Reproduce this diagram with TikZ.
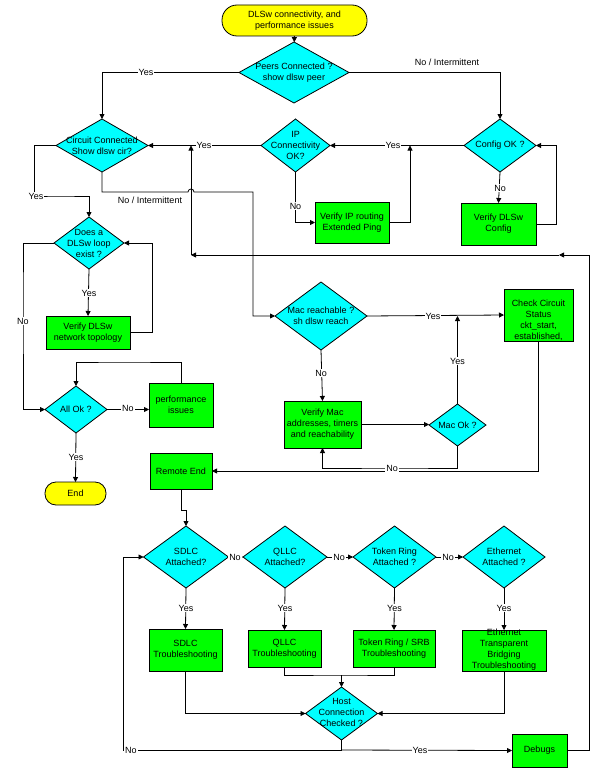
\documentclass[tikz,border=0pt]{standalone}
\usepackage{fontspec}
\setmainfont{Liberation Sans}
\usetikzlibrary{shapes.geometric,arrows.meta}
\definecolor{dcyan}{RGB}{0,255,255}
\definecolor{dgreen}{RGB}{0,255,0}
\definecolor{dyellow}{RGB}{255,255,0}
\begin{document}
\begin{tikzpicture}[x=1pt,y=-1pt,
  font=\fontsize{9}{11}\selectfont,
  dec/.style={diamond, draw=black, fill=dcyan, line width=0.8pt, inner sep=0pt, outer sep=0pt},
  gbox/.style={rectangle, draw=black, fill=dgreen, line width=0.8pt, inner sep=0pt, outer sep=0pt},
  term/.style={rectangle, rounded corners=#1, draw=black, fill=dyellow, line width=0.8pt, inner sep=0pt, outer sep=0pt},
  txt/.style={align=center, inner sep=0pt},
  lbl/.style={fill=white, inner sep=1pt},
  conn/.style={line width=0.8pt},
  arr/.style={line width=0.8pt, -{Triangle[length=5pt,width=5pt]}},
]
\fill[white] (0,0) rectangle (612,768);
\useasboundingbox (0,0) rectangle (612,768);

% ---------- shapes ----------
\node[term=15pt, minimum width=145pt, minimum height=31pt] (start) at (294.5,20.5) {};
\node[txt] (start-t) at (start) {DLSw connectivity, and\\performance issues};

\node[dec, minimum width=110pt, minimum height=61pt] (peers) at (294,72.5) {};
\node[txt] (peers-t) at (peers) {Peers Connected ?\\show dlsw peer};

\node[dec, minimum width=92pt, minimum height=53pt] (circ) at (102,145.5) {};
\node[txt] (circ-t) at (circ) {Circuit Connected\\Show dlsw cir?};

\node[dec, minimum width=69pt, minimum height=53pt] (ip) at (295.5,145.5) {};
\node[txt] (ip-t) at (ip) {IP\\Connectivity\\OK?};

\node[dec, minimum width=72pt, minimum height=53pt] (cfg) at (500,145.5) {};
\node[txt] (cfg-t) at (cfg) {Config OK ?};

\node[gbox, minimum width=74pt, minimum height=41pt] (vip) at (352,222.5) {};
\node[txt] (vip-t) at (vip) {Verify IP routing\\Extended Ping};

\node[gbox, minimum width=75pt, minimum height=42pt] (vcfg) at (498.5,224) {};
\node[txt] (vcfg-t) at (vcfg) {Verify DLSw\\Config};

\node[dec, minimum width=70pt, minimum height=52pt] (loop) at (89,243) {};
\node[txt] (loop-t) at (loop) {Does a\\DLSw loop\\exist ?};

\node[gbox, minimum width=84pt, minimum height=33pt] (vtopo) at (88,332.5) {};
\node[txt] (vtopo-t) at (vtopo) {Verify DLSw\\network topology};

\node[dec, minimum width=62pt, minimum height=47pt] (allok) at (76,409.5) {};
\node[txt] (allok-t) at (allok) {All Ok ?};

\node[gbox, minimum width=64pt, minimum height=44pt] (perf) at (181,405) {};
\node[txt] (perf-t) at (perf) {performance\\issues};

\node[term=11pt, minimum width=61pt, minimum height=23pt] (endn) at (75.5,493.5) {};
\node[txt] (endn-t) at (endn) {End};

\node[dec, minimum width=92pt, minimum height=68pt] (macr) at (321,316) {};
\node[txt] (macr-t) at (macr) {Mac reachable ?\\sh dlsw reach};

\node[gbox, minimum width=69pt, minimum height=52pt] (chk) at (538.5,315) {};
\node[txt] (chk-t) at (538.5,320) {Check Circuit\\Status\\ckt\_start,\\established,};

\node[gbox, minimum width=77pt, minimum height=47pt] (vmac) at (322.5,424.5) {};
\node[txt] (vmac-t) at (vmac) {Verify Mac\\addresses, timers\\and reachability};

\node[dec, minimum width=57pt, minimum height=42pt] (macok) at (457.5,425) {};
\node[txt] (macok-t) at (macok) {Mac Ok ?};

\node[gbox, minimum width=62pt, minimum height=36pt] (rend) at (181,471) {};
\node[txt] (rend-t) at (rend) {Remote End};

\node[dec, minimum width=85pt, minimum height=62pt] (sdlc) at (186,557) {};
\node[txt] (sdlc-t) at (sdlc) {SDLC\\Attached?};
\node[dec, minimum width=84pt, minimum height=62pt] (qllc) at (285,557) {};
\node[txt] (qllc-t) at (qllc) {QLLC\\Attached?};
\node[dec, minimum width=83pt, minimum height=62pt] (tr) at (394.5,557) {};
\node[txt] (tr-t) at (tr) {Token Ring\\Attached ?};
\node[dec, minimum width=82pt, minimum height=62pt] (eth) at (504,557) {};
\node[txt] (eth-t) at (eth) {Ethernet\\Attached ?};

\node[gbox, minimum width=73pt, minimum height=42pt] (sdlcb) at (185.5,650) {};
\node[txt] (sdlcb-t) at (sdlcb) {SDLC\\Troubleshooting};
\node[gbox, minimum width=73pt, minimum height=37pt] (qllcb) at (284.5,648.5) {};
\node[txt] (qllcb-t) at (qllcb) {QLLC\\Troubleshooting};
\node[gbox, minimum width=82pt, minimum height=37pt] (trb) at (394,648.5) {};
\node[txt] (trb-t) at (trb) {Token Ring / SRB\\Troubleshooting};
\node[gbox, minimum width=84pt, minimum height=41pt] (ethb) at (504,650.5) {};
\node[txt] (ethb-t) at (504,649.5) {Ethernet\\Transparent\\Bridging\\Troubleshooting};

\node[dec, minimum width=72pt, minimum height=53pt] (host) at (341.5,713.5) {};
\node[txt] (host-t) at (341.5,712) {Host\\Connection\\Checked ?};

\node[gbox, minimum width=55pt, minimum height=33pt] (debugs) at (539.5,750.5) {};
\node[txt] (debugs-t) at (debugs) {Debugs};

% ---------- helper coordinates ----------
\coordinate (m1) at (410,145.5);
\coordinate (hopa) at (188,192);
\coordinate (cornA) at (253,192);
\coordinate (mq) at (341.5,675);
\coordinate (hb) at (341.5,750);
\coordinate (lb) at (123,750);
\coordinate (r1) at (589,255);
\coordinate (r2) at (559,255);
\coordinate (r3) at (191,255);
\coordinate (r4) at (191,145.5);
\coordinate (rj) at (181,510);
\coordinate (rk) at (186,510);

% ---------- connectors ----------
\draw[arr] (start) -- (peers);
\draw[arr] (peers.west) -| (circ.north);
\draw[arr] (peers.east) -| (cfg.north);
\draw[arr] (cfg.west) -- (ip.east);
\draw[arr] (vip.east) -| (m1);
\draw[arr] (cfg.south) -- (vcfg.north);
\draw[arr] (vcfg.east) -- (556,224) |- (cfg.east);
\draw[arr] (ip.south) |- (vip.west);
\draw[arr] (ip.west) -- (circ.east);
\draw[arr] (circ.west) -- (34,145.5) |- (60,196) -| (loop.north);
\draw[arr] (circ.south) |- (hopa) arc[start angle=180, end angle=0, radius=3pt] -- (cornA) |- (macr.west);
\draw[arr] (loop.south) -- (vtopo.north);
\draw[arr] (vtopo.east) -| (152,243) -- (loop.east);
\draw[arr] (loop.west) -| (23,300) |- (allok.west);
\draw[arr] (allok.east) -- (allok.east -| perf.west);
\draw[arr] (perf.north) |- (120,362) -| (allok.north);
\draw[arr] (allok.south) -- (endn.north);
\draw[arr] (macr.south) -- (vmac.north);
\draw[arr] (macr.east) -- (chk.west);
\draw[arr] (vmac.east) -- (vmac.east -| macok.west);
\draw[arr] (macok.north) -- (macok.north |- macr.east);
\draw[arr] (macok.south) |- (400,468) -| (vmac.south);
\draw[arr] (chk.south) |- (rend.east);
\draw[arr] (rend.south) -- (rj) -- (rk) -- (sdlc.north);
\draw[arr] (sdlc.east) -- (qllc.west);
\draw[arr] (qllc.east) -- (tr.west);
\draw[arr] (tr.east) -- (eth.west);
\draw[arr] (sdlc.south) -- (sdlcb.north);
\draw[arr] (qllc.south) -- (qllcb.north);
\draw[arr] (tr.south) -- (trb.north);
\draw[arr] (eth.south) -- (ethb.north);
\draw[arr] (sdlcb.south) |- (host.west);
\draw[arr] (ethb.south) |- (host.east);
\draw[conn] (qllcb.south) |- (mq) -| (trb.south);
\draw[arr] (mq) -- (host.north);
\draw[conn] (host.south) -- (hb);
\draw[arr] (hb) -- (debugs.west);
\draw[arr] (hb) -- (lb) |- (sdlc.west);
\draw[arr] (debugs.east) -| (r1) -- (r2);
\draw[arr] (r2) -- (r3);
\draw[arr] (r3) -- (r4);

% ---------- labels ----------
\node[lbl] (l1) at (146,72.5) {Yes};
\node[inner sep=0pt] (l2) at (447,62) {No / Intermittent};
\node[lbl] (l3) at (393,145.5) {Yes};
\node[lbl] (l4) at (500,188) {No};
\node[lbl] (l5) at (295.5,206) {No};
\node[lbl] (l6) at (204,145.5) {Yes};
\node[lbl] (l7) at (36,196) {Yes};
\node[inner sep=0pt] (l8) at (150,200) {No / Intermittent};
\node[lbl] (l9) at (89,293) {Yes};
\node[lbl] (l10) at (23,321) {No};
\node[lbl] (l11) at (128,408) {No};
\node[lbl] (l12) at (76,457) {Yes};
\node[lbl] (l13) at (321,373) {No};
\node[lbl] (l14) at (433,316) {Yes};
\node[lbl] (l15) at (457.5,361) {Yes};
\node[lbl] (l16) at (392,468) {No};
\node[lbl] (l17) at (235,557) {No};
\node[lbl] (l18) at (339,557) {No};
\node[lbl] (l19) at (448,557) {No};
\node[lbl] (l20) at (186,608) {Yes};
\node[lbl] (l21) at (285,608) {Yes};
\node[lbl] (l22) at (394.5,608) {Yes};
\node[lbl] (l23) at (504,608) {Yes};
\node[lbl] (l24) at (420,750) {Yes};
\node[lbl] (l25) at (131,750) {No};
\end{tikzpicture}
\end{document}
